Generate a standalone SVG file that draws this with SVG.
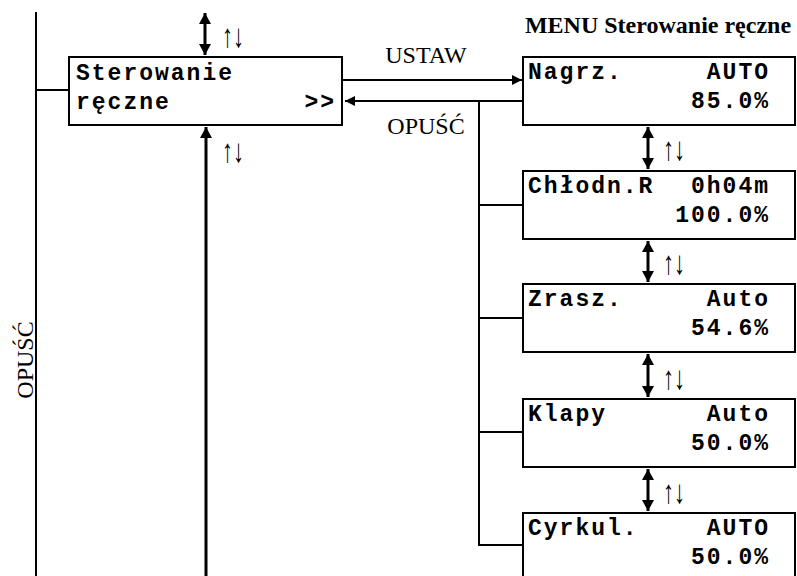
<svg xmlns="http://www.w3.org/2000/svg" width="797" height="576" viewBox="0 0 797 576">
<style>
.box{fill:#fff;stroke:#000;stroke-width:2}
.mono{font-family:"Liberation Mono","Courier New",monospace;font-weight:bold;font-size:23px;letter-spacing:2px;fill:#000}
.serif{font-family:"Liberation Serif","Times New Roman",serif;font-size:24px;fill:#000}
.arr{font-family:"Liberation Serif","Times New Roman",serif;font-size:22px;fill:#000}
.ln{fill:none;stroke:#000;stroke-width:2}
.dbl{fill:none;stroke:#000;stroke-width:3}
</style>
<defs>
<marker id="ah" viewBox="0 0 10 10" refX="10" refY="5" markerWidth="10" markerHeight="10" markerUnits="userSpaceOnUse" orient="auto-start-reverse">
<path d="M0,0 L10,5 L0,10 z" fill="#000"/>
</marker>
<marker id="ah2" viewBox="0 0 10 10" refX="10" refY="5" markerWidth="11" markerHeight="12" markerUnits="userSpaceOnUse" orient="auto-start-reverse" preserveAspectRatio="none">
<path d="M0,0 L10,5 L0,10 z" fill="#000"/>
</marker>
</defs>
<g id="connectors">
<line class="ln" x1="36" y1="12" x2="36" y2="576"/>
<line class="ln" x1="36" y1="90" x2="69" y2="90"/>
<line class="dbl" x1="205" y1="13" x2="205" y2="55" marker-start="url(#ah2)" marker-end="url(#ah2)"/>
<line class="dbl" x1="206" y1="576" x2="206" y2="127" marker-end="url(#ah2)"/>
<line class="ln" x1="343" y1="80" x2="522" y2="80" marker-end="url(#ah)"/>
<line class="ln" x1="523" y1="101" x2="345" y2="101" marker-end="url(#ah)"/>
<polyline class="ln" points="479,101 479,545 523,545"/>
<line class="ln" x1="479" y1="205" x2="523" y2="205"/>
<line class="ln" x1="479" y1="318" x2="523" y2="318"/>
<line class="ln" x1="479" y1="432" x2="523" y2="432"/>
<line class="dbl" x1="648" y1="127" x2="648" y2="169" marker-start="url(#ah2)" marker-end="url(#ah2)"/>
<line class="dbl" x1="648" y1="241" x2="648" y2="282" marker-start="url(#ah2)" marker-end="url(#ah2)"/>
<line class="dbl" x1="648" y1="354" x2="648" y2="397" marker-start="url(#ah2)" marker-end="url(#ah2)"/>
<line class="dbl" x1="648" y1="469" x2="648" y2="511" marker-start="url(#ah2)" marker-end="url(#ah2)"/>
<text class="serif" x="426" y="63" text-anchor="middle">USTAW</text>
<text class="serif" x="426" y="134" text-anchor="middle">OPUŚĆ</text>
<text class="serif" x="33" y="360" text-anchor="middle" transform="rotate(-90 33 360)">OPUŚĆ</text>
<text class="arr" transform="translate(222,47) scale(1,1.5)">↑↓</text>
<text class="arr" transform="translate(222,162) scale(1,1.5)">↑↓</text>
<text class="arr" transform="translate(663,160) scale(1,1.5)">↑↓</text>
<text class="arr" transform="translate(663,274) scale(1,1.5)">↑↓</text>
<text class="arr" transform="translate(663,389) scale(1,1.5)">↑↓</text>
<text class="arr" transform="translate(663,503) scale(1,1.5)">↑↓</text>
</g>
<text class="serif" x="658" y="33" text-anchor="middle" font-weight="bold" font-size="25">MENU Sterowanie ręczne</text>
<g id="main">
<rect class="box" x="69" y="57" width="273" height="68"/>
<text class="mono" x="76" y="80">Sterowanie</text>
<text class="mono" x="76" y="109">ręczne</text>
<text class="mono" x="336" y="109" text-anchor="end">&gt;&gt;</text>
</g>
<g id="nagrz">
<rect class="box" x="523" y="57" width="272" height="68"/>
<text class="mono" x="528" y="79">Nagrz.</text>
<text class="mono" x="770" y="79" text-anchor="end">AUTO</text>
<text class="mono" x="770" y="108" text-anchor="end">85.0%</text>
</g>
<g id="chlodn">
<rect class="box" x="523" y="171" width="272" height="68"/>
<text class="mono" x="528" y="193">Chłodn.R</text>
<text class="mono" x="770" y="193" text-anchor="end">0h04m</text>
<text class="mono" x="770" y="222" text-anchor="end">100.0%</text>
</g>
<g id="zrasz">
<rect class="box" x="523" y="284" width="272" height="68"/>
<text class="mono" x="528" y="306">Zrasz.</text>
<text class="mono" x="770" y="306" text-anchor="end">Auto</text>
<text class="mono" x="770" y="335" text-anchor="end">54.6%</text>
</g>
<g id="klapy">
<rect class="box" x="523" y="399" width="272" height="68"/>
<text class="mono" x="528" y="421">Klapy</text>
<text class="mono" x="770" y="421" text-anchor="end">Auto</text>
<text class="mono" x="770" y="450" text-anchor="end">50.0%</text>
</g>
<g id="cyrkul">
<rect class="box" x="523" y="513" width="272" height="68"/>
<text class="mono" x="528" y="535">Cyrkul.</text>
<text class="mono" x="770" y="535" text-anchor="end">AUTO</text>
<text class="mono" x="770" y="564" text-anchor="end">50.0%</text>
</g>
</svg>
